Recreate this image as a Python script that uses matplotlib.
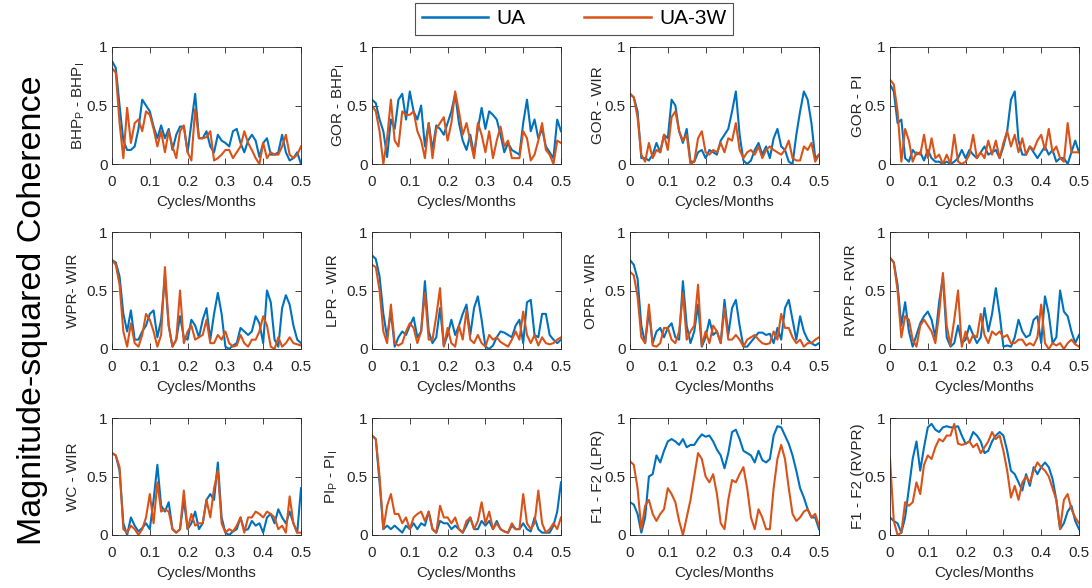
import numpy as np
import matplotlib
matplotlib.use("Agg")
import matplotlib.pyplot as plt

plt.rcParams.update({"font.family": "Liberation Sans", "mathtext.default": "regular",
                     "font.size": 11})

UA_COLOR = "#0072BD"
W3_COLOR = "#D95319"
AX_COLOR = "#262626"

# frequency axis (cycles/month), 0.01 spacing
freq = np.arange(51) * 0.01

# ---- coherence estimates, UA and UA-3W, one pair per well-pair ----
bhp_ua = [0.88, 0.82, 0.50, 0.20, 0.12, 0.12, 0.15, 0.30, 0.55, 0.50, 0.45, 0.32, 0.22, 0.33,
          0.22, 0.30, 0.12, 0.25, 0.32, 0.32, 0.10, 0.35, 0.60, 0.22, 0.22, 0.28, 0.15, 0.10,
          0.25, 0.20, 0.18, 0.15, 0.28, 0.30, 0.18, 0.10, 0.20, 0.25, 0.20, 0.06, 0.18, 0.22,
          0.08, 0.08, 0.10, 0.25, 0.10, 0.03, 0.05, 0.10, 0.00]
bhp_3w = [0.82, 0.78, 0.35, 0.05, 0.48, 0.18, 0.35, 0.38, 0.28, 0.45, 0.42, 0.30, 0.15, 0.28,
          0.10, 0.28, 0.15, 0.05, 0.28, 0.33, 0.10, 0.03, 0.47, 0.22, 0.22, 0.23, 0.28, 0.03,
          0.05, 0.08, 0.12, 0.12, 0.05, 0.10, 0.15, 0.28, 0.18, 0.12, 0.05, 0.00, 0.18, 0.05,
          0.10, 0.08, 0.08, 0.15, 0.25, 0.08, 0.05, 0.08, 0.15]

gor_bhp_ua = [0.55, 0.52, 0.38, 0.28, 0.06, 0.38, 0.30, 0.55, 0.60, 0.38, 0.62, 0.45, 0.38,
              0.50, 0.15, 0.35, 0.12, 0.33, 0.30, 0.25, 0.35, 0.45, 0.60, 0.35, 0.20, 0.12,
              0.25, 0.08, 0.30, 0.48, 0.30, 0.45, 0.42, 0.38, 0.25, 0.10, 0.18, 0.12, 0.10,
              0.08, 0.35, 0.55, 0.28, 0.38, 0.22, 0.30, 0.15, 0.10, 0.05, 0.38, 0.28]
gor_bhp_3w = [0.50, 0.45, 0.28, 0.00, 0.22, 0.55, 0.20, 0.15, 0.45, 0.42, 0.42, 0.45, 0.28,
              0.20, 0.05, 0.35, 0.05, 0.30, 0.35, 0.40, 0.20, 0.35, 0.62, 0.45, 0.25, 0.35,
              0.20, 0.05, 0.35, 0.25, 0.10, 0.28, 0.05, 0.20, 0.32, 0.15, 0.20, 0.05, 0.05,
              0.05, 0.28, 0.22, 0.03, 0.08, 0.20, 0.35, 0.12, 0.08, 0.00, 0.20, 0.18]

gor_wir_ua = [0.60, 0.57, 0.45, 0.05, 0.05, 0.03, 0.08, 0.18, 0.10, 0.25, 0.22, 0.55, 0.50,
              0.28, 0.18, 0.30, 0.02, 0.02, 0.10, 0.12, 0.05, 0.12, 0.10, 0.08, 0.20, 0.25,
              0.30, 0.45, 0.62, 0.25, 0.03, 0.00, 0.03, 0.12, 0.18, 0.08, 0.15, 0.05, 0.22,
              0.30, 0.15, 0.12, 0.02, 0.00, 0.25, 0.45, 0.62, 0.55, 0.35, 0.05, 0.08]
gor_wir_3w = [0.60, 0.57, 0.40, 0.08, 0.02, 0.18, 0.05, 0.12, 0.10, 0.25, 0.12, 0.40, 0.45,
              0.28, 0.20, 0.25, 0.00, 0.02, 0.22, 0.28, 0.10, 0.08, 0.12, 0.10, 0.18, 0.10,
              0.22, 0.20, 0.35, 0.12, 0.05, 0.10, 0.12, 0.08, 0.15, 0.05, 0.12, 0.15, 0.12,
              0.10, 0.08, 0.12, 0.20, 0.05, 0.03, 0.03, 0.15, 0.12, 0.18, 0.02, 0.08]

gor_pi_ua = [0.68, 0.62, 0.35, 0.38, 0.05, 0.02, 0.12, 0.08, 0.10, 0.03, 0.12, 0.05, 0.02,
             0.02, 0.00, 0.02, 0.00, 0.02, 0.05, 0.12, 0.05, 0.12, 0.08, 0.05, 0.10, 0.15,
             0.08, 0.10, 0.12, 0.05, 0.15, 0.28, 0.55, 0.62, 0.20, 0.08, 0.08, 0.15, 0.10,
             0.05, 0.10, 0.15, 0.08, 0.12, 0.02, 0.05, 0.05, 0.00, 0.10, 0.20, 0.10]
gor_pi_3w = [0.72, 0.68, 0.45, 0.02, 0.30, 0.20, 0.02, 0.10, 0.08, 0.25, 0.05, 0.22, 0.05,
             0.08, 0.00, 0.08, 0.00, 0.25, 0.02, 0.00, 0.02, 0.08, 0.25, 0.05, 0.10, 0.05,
             0.20, 0.08, 0.20, 0.05, 0.18, 0.28, 0.15, 0.25, 0.10, 0.22, 0.08, 0.15, 0.12,
             0.20, 0.25, 0.12, 0.30, 0.10, 0.15, 0.05, 0.02, 0.35, 0.10, 0.10, 0.10]

wpr_ua = [0.76, 0.74, 0.62, 0.30, 0.15, 0.33, 0.08, 0.08, 0.15, 0.20, 0.30, 0.33, 0.10, 0.25,
          0.62, 0.20, 0.02, 0.08, 0.28, 0.10, 0.08, 0.25, 0.20, 0.10, 0.25, 0.35, 0.08, 0.30,
          0.48, 0.30, 0.02, 0.00, 0.03, 0.05, 0.18, 0.15, 0.12, 0.15, 0.28, 0.22, 0.05, 0.50,
          0.40, 0.08, 0.02, 0.35, 0.46, 0.38, 0.20, 0.08, 0.05]
wpr_3w = [0.76, 0.72, 0.55, 0.15, 0.02, 0.22, 0.05, 0.02, 0.12, 0.30, 0.25, 0.15, 0.02, 0.12,
          0.70, 0.20, 0.02, 0.08, 0.50, 0.05, 0.15, 0.20, 0.08, 0.10, 0.12, 0.25, 0.05, 0.05,
          0.12, 0.08, 0.15, 0.05, 0.02, 0.03, 0.12, 0.05, 0.02, 0.08, 0.08, 0.15, 0.28, 0.20,
          0.02, 0.00, 0.10, 0.02, 0.05, 0.10, 0.05, 0.04, 0.03]

lpr_ua = [0.80, 0.77, 0.62, 0.30, 0.10, 0.32, 0.02, 0.10, 0.15, 0.12, 0.20, 0.27, 0.10, 0.15,
          0.58, 0.15, 0.05, 0.10, 0.35, 0.03, 0.12, 0.25, 0.12, 0.20, 0.30, 0.38, 0.12, 0.35,
          0.45, 0.25, 0.02, 0.00, 0.03, 0.10, 0.15, 0.14, 0.12, 0.10, 0.20, 0.25, 0.05, 0.40,
          0.42, 0.12, 0.10, 0.30, 0.30, 0.12, 0.08, 0.05, 0.08]
lpr_3w = [0.72, 0.70, 0.50, 0.15, 0.05, 0.38, 0.05, 0.03, 0.05, 0.15, 0.22, 0.18, 0.05, 0.15,
          0.48, 0.08, 0.08, 0.28, 0.52, 0.02, 0.18, 0.05, 0.02, 0.20, 0.08, 0.33, 0.08, 0.05,
          0.12, 0.05, 0.02, 0.12, 0.08, 0.10, 0.06, 0.04, 0.02, 0.08, 0.15, 0.08, 0.32, 0.12,
          0.05, 0.12, 0.03, 0.10, 0.05, 0.04, 0.05, 0.08, 0.10]

opr_ua = [0.76, 0.72, 0.60, 0.20, 0.05, 0.32, 0.05, 0.15, 0.18, 0.10, 0.18, 0.22, 0.10, 0.08,
          0.58, 0.20, 0.05, 0.15, 0.38, 0.02, 0.10, 0.25, 0.12, 0.15, 0.05, 0.42, 0.12, 0.35,
          0.42, 0.20, 0.02, 0.02, 0.06, 0.10, 0.14, 0.14, 0.12, 0.13, 0.05, 0.18, 0.08, 0.35,
          0.42, 0.25, 0.08, 0.28, 0.15, 0.08, 0.05, 0.03, 0.05]
opr_3w = [0.66, 0.63, 0.45, 0.10, 0.05, 0.38, 0.03, 0.02, 0.05, 0.18, 0.18, 0.08, 0.05, 0.15,
          0.48, 0.08, 0.15, 0.20, 0.55, 0.03, 0.15, 0.05, 0.20, 0.15, 0.05, 0.35, 0.08, 0.08,
          0.12, 0.08, 0.02, 0.08, 0.10, 0.12, 0.08, 0.05, 0.04, 0.05, 0.15, 0.08, 0.30, 0.18,
          0.18, 0.10, 0.05, 0.08, 0.02, 0.05, 0.05, 0.08, 0.10]

rvpr_ua = [0.78, 0.74, 0.55, 0.20, 0.40, 0.15, 0.02, 0.12, 0.22, 0.28, 0.32, 0.25, 0.10, 0.40,
           0.62, 0.10, 0.02, 0.05, 0.20, 0.05, 0.08, 0.20, 0.12, 0.05, 0.10, 0.35, 0.15, 0.30,
           0.52, 0.30, 0.02, 0.03, 0.02, 0.10, 0.25, 0.15, 0.10, 0.12, 0.25, 0.28, 0.05, 0.45,
           0.30, 0.05, 0.10, 0.50, 0.32, 0.28, 0.15, 0.05, 0.12]
rvpr_3w = [0.78, 0.74, 0.50, 0.10, 0.28, 0.25, 0.08, 0.02, 0.20, 0.25, 0.20, 0.15, 0.05, 0.30,
           0.65, 0.20, 0.03, 0.25, 0.50, 0.02, 0.15, 0.05, 0.12, 0.10, 0.30, 0.12, 0.05, 0.15,
           0.12, 0.15, 0.10, 0.12, 0.05, 0.05, 0.08, 0.08, 0.03, 0.05, 0.03, 0.10, 0.38, 0.05,
           0.00, 0.05, 0.03, 0.05, 0.00, 0.05, 0.08, 0.04, 0.02]

wc_ua = [0.70, 0.68, 0.55, 0.10, 0.00, 0.15, 0.08, 0.03, 0.06, 0.10, 0.05, 0.30, 0.60, 0.25,
         0.20, 0.28, 0.05, 0.02, 0.05, 0.30, 0.05, 0.10, 0.20, 0.05, 0.10, 0.30, 0.35, 0.30,
         0.62, 0.15, 0.02, 0.00, 0.03, 0.05, 0.15, 0.04, 0.05, 0.12, 0.08, 0.10, 0.02, 0.15,
         0.18, 0.10, 0.22, 0.15, 0.10, 0.20, 0.10, 0.02, 0.40]
wc_3w = [0.70, 0.68, 0.58, 0.05, 0.02, 0.08, 0.05, 0.00, 0.05, 0.15, 0.35, 0.10, 0.45, 0.20,
         0.22, 0.20, 0.05, 0.02, 0.05, 0.38, 0.05, 0.18, 0.08, 0.10, 0.10, 0.30, 0.15, 0.40,
         0.55, 0.10, 0.02, 0.05, 0.03, 0.08, 0.15, 0.02, 0.15, 0.15, 0.20, 0.18, 0.15, 0.20,
         0.18, 0.15, 0.05, 0.08, 0.02, 0.33, 0.10, 0.02, 0.02]

pi_ua = [0.85, 0.82, 0.45, 0.05, 0.08, 0.05, 0.08, 0.05, 0.02, 0.08, 0.05, 0.10, 0.05, 0.10,
         0.08, 0.20, 0.05, 0.02, 0.12, 0.10, 0.10, 0.05, 0.08, 0.05, 0.02, 0.08, 0.15, 0.05,
         0.05, 0.12, 0.08, 0.12, 0.05, 0.12, 0.05, 0.03, 0.02, 0.08, 0.05, 0.05, 0.10, 0.05,
         0.03, 0.15, 0.05, 0.02, 0.02, 0.02, 0.08, 0.20, 0.45]
pi_3w = [0.85, 0.82, 0.50, 0.05, 0.25, 0.35, 0.18, 0.18, 0.10, 0.15, 0.05, 0.15, 0.18, 0.20,
         0.12, 0.20, 0.05, 0.02, 0.25, 0.15, 0.15, 0.10, 0.15, 0.05, 0.02, 0.12, 0.15, 0.05,
         0.12, 0.28, 0.10, 0.20, 0.05, 0.10, 0.05, 0.03, 0.02, 0.10, 0.05, 0.05, 0.35, 0.10,
         0.05, 0.10, 0.38, 0.10, 0.02, 0.05, 0.10, 0.05, 0.15]

f_lpr_ua = [0.28, 0.26, 0.18, 0.02, 0.15, 0.50, 0.52, 0.68, 0.62, 0.72, 0.80, 0.82, 0.80,
            0.77, 0.82, 0.75, 0.77, 0.77, 0.82, 0.86, 0.84, 0.85, 0.80, 0.73, 0.68, 0.57,
            0.70, 0.88, 0.90, 0.82, 0.72, 0.70, 0.68, 0.62, 0.72, 0.64, 0.62, 0.65, 0.85,
            0.93, 0.92, 0.85, 0.78, 0.68, 0.55, 0.40, 0.32, 0.22, 0.15, 0.15, 0.05]
f_lpr_3w = [0.63, 0.60, 0.40, 0.05, 0.25, 0.30, 0.18, 0.12, 0.18, 0.22, 0.40, 0.35, 0.28,
            0.12, 0.00, 0.15, 0.30, 0.50, 0.70, 0.65, 0.50, 0.45, 0.52, 0.35, 0.10, 0.05,
            0.30, 0.47, 0.45, 0.52, 0.58, 0.40, 0.15, 0.05, 0.22, 0.15, 0.05, 0.05, 0.40,
            0.65, 0.77, 0.65, 0.40, 0.18, 0.12, 0.15, 0.20, 0.22, 0.15, 0.18, 0.08]

f_rvpr_ua = [0.15, 0.12, 0.10, 0.02, 0.15, 0.40, 0.65, 0.80, 0.55, 0.75, 0.92, 0.95, 0.90,
             0.88, 0.92, 0.93, 0.92, 0.92, 0.93, 0.85, 0.78, 0.80, 0.88, 0.85, 0.80, 0.70,
             0.72, 0.80, 0.85, 0.88, 0.85, 0.72, 0.55, 0.52, 0.45, 0.38, 0.52, 0.42, 0.58,
             0.52, 0.58, 0.62, 0.58, 0.48, 0.30, 0.05, 0.10, 0.20, 0.25, 0.12, 0.05]
f_rvpr_3w = [0.65, 0.12, 0.00, 0.02, 0.28, 0.25, 0.28, 0.45, 0.35, 0.60, 0.68, 0.65, 0.75,
             0.82, 0.80, 0.85, 0.85, 0.95, 0.78, 0.77, 0.78, 0.80, 0.75, 0.78, 0.70, 0.75,
             0.80, 0.88, 0.82, 0.85, 0.72, 0.55, 0.32, 0.42, 0.30, 0.45, 0.50, 0.45, 0.55,
             0.62, 0.58, 0.55, 0.50, 0.40, 0.30, 0.05, 0.30, 0.35, 0.22, 0.15, 0.10]

pair_labels = [r"BHP$_P$ - BHP$_I$", r"GOR - BHP$_I$", "GOR - WIR", "GOR - PI",
               "WPR- WIR", "LPR - WIR", "OPR - WIR", "RVPR - RVIR",
               "WC - WIR", r"PI$_P$ - PI$_I$", "F1 - F2 (LPR)", "F1 - F2 (RVPR)"]
ua_series = [bhp_ua, gor_bhp_ua, gor_wir_ua, gor_pi_ua, wpr_ua, lpr_ua, opr_ua, rvpr_ua,
             wc_ua, pi_ua, f_lpr_ua, f_rvpr_ua]
w3_series = [bhp_3w, gor_bhp_3w, gor_wir_3w, gor_pi_3w, wpr_3w, lpr_3w, opr_3w, rvpr_3w,
             wc_3w, pi_3w, f_lpr_3w, f_rvpr_3w]

W, H = 1092, 588
fig = plt.figure(figsize=(W / 100, H / 100), dpi=100)

# axes boxes in pixels: column left edges, row top edges
col_x = [112, 372, 630, 890]
row_y = [47, 232, 418]
ax_w, ax_h = 189, 117
# gap (px) between the axis and the right edge of each y label
label_gap = [25, 25, 25, 25,
             32, 32, 32, 32,
             32, 32, 25, 25]

lines = None
for i, (lab, ua, w3) in enumerate(zip(pair_labels, ua_series, w3_series)):
    r, c = divmod(i, 4)
    ax = fig.add_axes([col_x[c] / W, 1 - (row_y[r] + ax_h) / H, ax_w / W, ax_h / H])
    l1, = ax.plot(freq, ua, color=UA_COLOR, lw=1.5, label="UA")
    l2, = ax.plot(freq, w3, color=W3_COLOR, lw=1.5, label="UA-3W")
    lines = (l1, l2)
    ax.set_xlim(0, 0.5)
    ax.set_ylim(0, 1)
    ax.set_xticks(np.arange(0, 0.51, 0.1))
    ax.set_xticklabels(["0", "0.1", "0.2", "0.3", "0.4", "0.5"])
    ax.set_yticks([0, 0.5, 1])
    ax.set_yticklabels(["0", "0.5", "1"])
    ax.tick_params(direction="in", length=4, width=0.6, top=True, right=True,
                   colors=AX_COLOR, labelsize=11)
    ax.tick_params(axis="x", pad=8)
    ax.tick_params(axis="y", pad=3)
    for s in ax.spines.values():
        s.set_color(AX_COLOR)
        s.set_linewidth(0.6)
    ax.set_xlabel("Cycles/Months", fontsize=11, color=AX_COLOR, labelpad=4)
    ax.set_ylabel(lab, fontsize=11, color=AX_COLOR)
    ax.yaxis.set_label_coords(-label_gap[i] / ax_w, 0.5)

fig.text(33 / W, 1 - 310 / H, "Magnitude-squared Coherence", rotation=90,
         ha="center", va="center", fontsize=24.5, color="black")

leg = fig.legend(lines, ["UA", "UA-3W"], loc="center", ncol=2,
                 bbox_to_anchor=(574 / W, 1 - 19 / H), fontsize=15,
                 frameon=True, fancybox=False, handlelength=3.2, columnspacing=2.8,
                 handletextpad=0.4, borderpad=0.3)
leg.get_frame().set_edgecolor(AX_COLOR)
leg.get_frame().set_linewidth(0.8)
for h in leg.legend_handles:
    h.set_linewidth(1.8)

fig.savefig("out.png", dpi=100, facecolor="white")
